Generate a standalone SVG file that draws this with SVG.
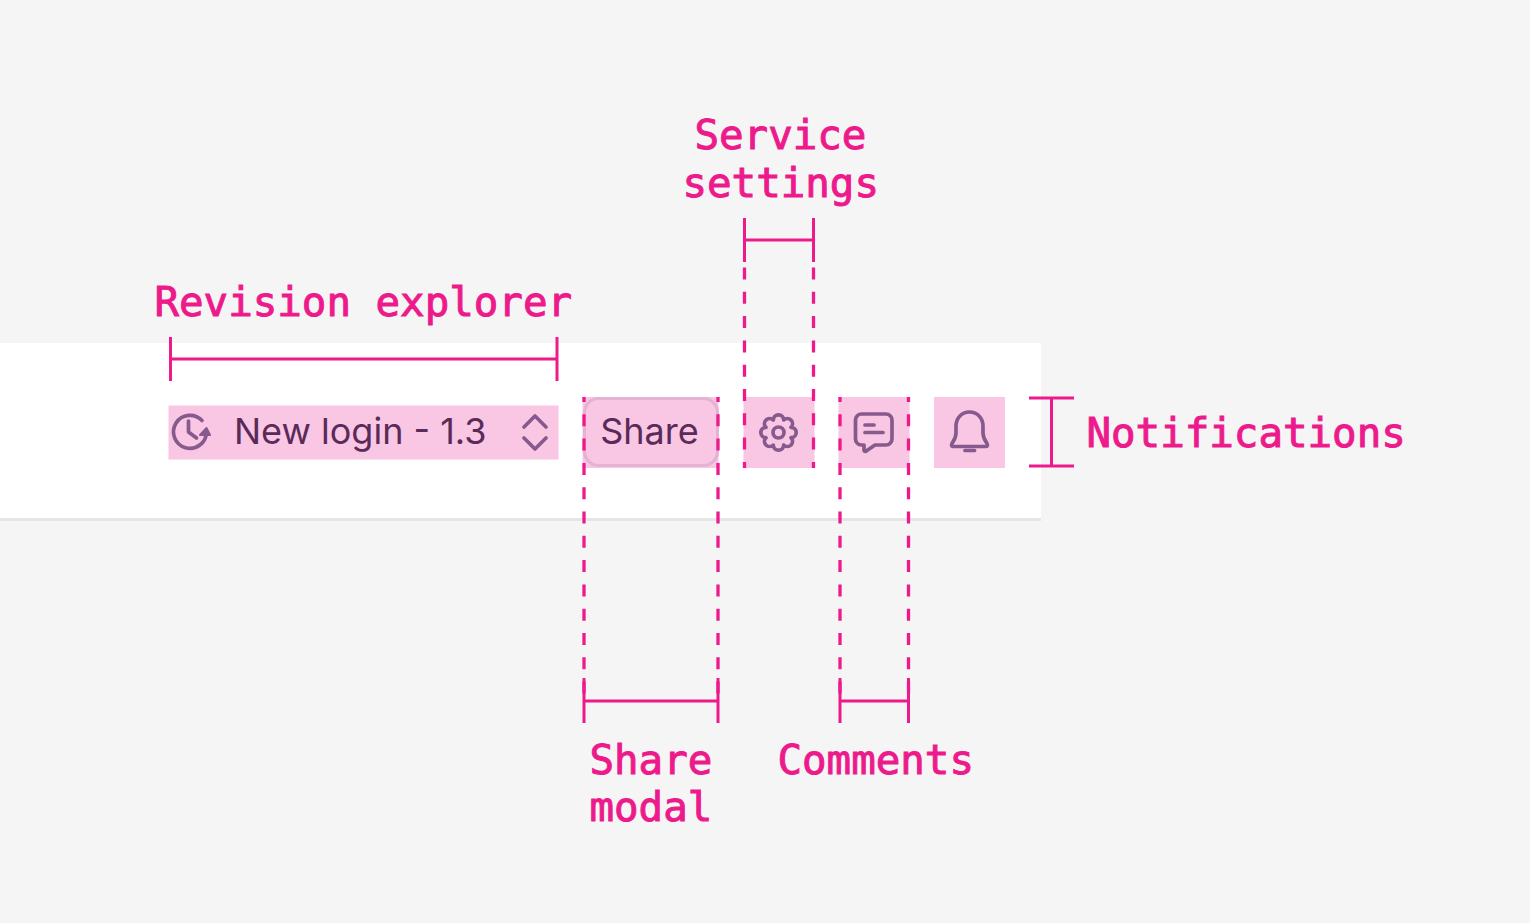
<svg xmlns="http://www.w3.org/2000/svg" width="1530" height="923" viewBox="0 0 1530 923">
<style>
.lb{font-family:"DejaVu Sans Mono","Liberation Mono",monospace;font-size:40.8px;fill:#ED1A8C;stroke:#ED1A8C;stroke-width:1px}
.ui{font-family:Inter,"Noto Sans",sans-serif;font-size:36px;fill:#5A2A58}
.hl{fill:#F9C6E4}
.ic{fill:none;stroke:#875A8E;stroke-width:3.7;stroke-linecap:round;stroke-linejoin:round}
.m{fill:none;stroke:#ED1A8C;stroke-width:3}
.d{fill:none;stroke:#ED1A8C;stroke-width:3.3;stroke-dasharray:12 12.3}
</style>
<rect width="1530" height="923" fill="#F5F5F5"/>
<g id="toolbar"><rect x="0" y="343" width="1041" height="176" fill="#fff"/><rect x="0" y="518" width="1041" height="3" fill="#E6E6E6"/></g>
<g id="revision-explorer">
<rect class="hl" x="168.500" y="405.500" width="390" height="54"/>
<path class="ic" d="M206.500 432a16.500 16.500 0 1 1-4.500-11.500M188.500 421v11l8 6"/>
<path d="M200 435l6.500-7 3.500 7z" fill="#875A8E" stroke="#875A8E" stroke-width="2" stroke-linejoin="round"/>
<text class="ui" x="234" y="444">New login - 1.3</text>
<path class="ic" d="M524 427l11-11 11 11M524 438l11 11 11-11"/>
</g>
<g id="share">
<rect class="hl" x="582.500" y="397" width="136" height="71"/>
<rect x="584.500" y="398.500" width="133" height="67" rx="14" fill="none" stroke="#E4B2D2" stroke-width="3"/>
<text class="ui" x="649.500" y="444" text-anchor="middle">Share</text>
</g>
<g id="service-settings">
<rect class="hl" x="743.500" y="397" width="71" height="71"/>
<g transform="translate(778.500 432.500)">
<circle class="ic" r="5.500"/>
<path class="ic" d="M12.500 5.200A5 5 0 0 1 5.200 12.500A5 5 0 0 1-5.200 12.500A5 5 0 0 1-12.500 5.200A5 5 0 0 1-12.500-5.200A5 5 0 0 1-5.200-12.500A5 5 0 0 1 5.200-12.500A5 5 0 0 1 12.500-5.200A5 5 0 0 1 12.500 5.200Z"/>
</g>
</g>
<g id="comments">
<rect class="hl" x="838.500" y="397" width="71" height="71"/>
<path class="ic" d="M862 414h24a6 6 0 0 1 6 6v19a6 6 0 0 1-6 6h-11l-9.500 6.500a1.500 1.500 0 0 1-1.500-1v-5.500h-2.500a6 6 0 0 1-6-6v-19a6 6 0 0 1 6-6z"/>
<path class="ic" d="M865 425h9M865 432.500h18"/>
</g>
<g id="notifications">
<rect class="hl" x="934" y="397" width="71" height="71"/>
<path class="ic" d="M969.500 412c-8.500 0-13.500 7-13.500 14v7c0 5-2.500 8-4 10.500-.8 1.500-.6 3 1 3h33c1.600 0 1.800-1.500 1-3-1.500-2.500-4-5.500-4-10.500v-7c0-7-5-14-13.500-14z"/>
<path class="ic" d="M965 450.500h9.500"/>
</g>
<g id="connectors">
<path class="m" d="M170.500 337v44M557 337v44M170.500 359H557"/>
<path class="m" d="M744.500 218v44M813.500 218v44M744.500 240h69"/>
<path class="d" d="M744.500 267.500V468M813.500 267.500V468"/>
<path class="d" style="stroke-dashoffset:7" d="M584 397V696M718 397V696"/>
<path class="m" d="M584 678v45M718 678v45M584 701h134"/>
<path class="d" style="stroke-dashoffset:7" d="M840 397V696M908.500 397V696"/>
<path class="m" d="M840 678v45M908.500 678v45M840 701h68.500"/>
<path class="m" d="M1029 398h45M1029 466h45M1051.500 398v68"/>
</g>
<g id="labels">
<text class="lb" x="154.500" y="316">Revision explorer</text>
<text class="lb" x="694.500" y="149">Service</text>
<text class="lb" x="682.500" y="197">settings</text>
<text class="lb" x="1086.500" y="447">Notifications</text>
<text class="lb" x="589.500" y="774">Share</text>
<text class="lb" x="589.500" y="821">modal</text>
<text class="lb" x="777.500" y="774">Comments</text>
</g>
</svg>
